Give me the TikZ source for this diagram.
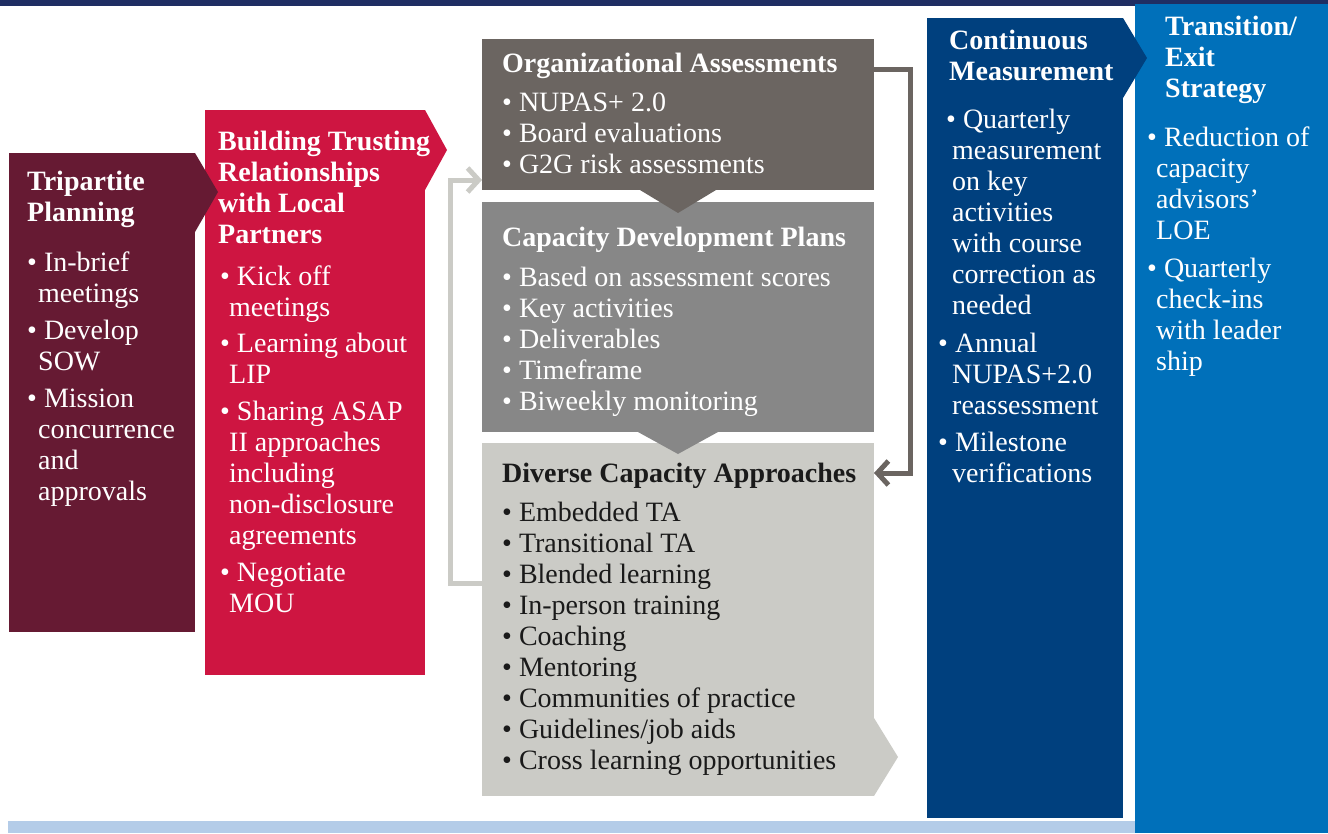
\documentclass[tikz,border=0pt]{standalone}
\usepackage{fontspec}
\setmainfont{Liberation Serif}
\usetikzlibrary{arrows.meta}

\definecolor{barc}{RGB}{31,46,99}
\definecolor{stripc}{RGB}{180,204,232}
\definecolor{planc}{RGB}{102,26,51}
\definecolor{trustc}{RGB}{206,21,65}
\definecolor{assessc}{RGB}{107,101,97}
\definecolor{cdpc}{RGB}{135,135,135}
\definecolor{approachc}{RGB}{203,203,198}
\definecolor{measurec}{RGB}{0,64,126}
\definecolor{exitc}{RGB}{0,112,186}
\definecolor{darktext}{RGB}{26,26,26}

\newcommand{\boxlines}[1]{\begin{tabular}[t]{@{}l@{}}#1\end{tabular}}

\tikzset{
  panel/.style={fill=#1, inner sep=0pt, outer sep=0pt, anchor=north west},
  txt/.style={inner sep=0pt, anchor=base west, text=white,
    font=\fontsize{28}{31}\selectfont},
  backline/.style={draw=#1, line width=5pt, line join=miter,
    -{Straight Barb[length=11pt,width=24pt]}}
}

\begin{document}
\begin{tikzpicture}[x=1pt,y=-1pt]
\useasboundingbox[fill=white] (0,0) rectangle (1328,833);
\fill[barc] (0,0) rectangle (1328,6);
\fill[stripc] (8,821) rectangle (1135,833);

\node[panel=exitc, minimum width=193pt, minimum height=829pt] (exit) at (1135,4) {};
\node[panel=measurec, minimum width=196pt, minimum height=800pt] (measure) at (927,18) {};
\fill[measurec] (measure.north east) -- ++(24,40) -- ++(-24,40) -- cycle;

\node[panel=trustc, minimum width=220pt, minimum height=565pt] (trust) at (205,110) {};
\fill[trustc] (trust.north east) -- ++(22,40) -- ++(-22,40) -- cycle;
\node[panel=planc, minimum width=186pt, minimum height=479pt] (plan) at (9,153) {};
\fill[planc] (plan.north east) -- ++(23,39) -- ++(-23,40) -- cycle;

\node[panel=approachc, minimum width=392pt, minimum height=353pt] (approach) at (482,443) {};
\fill[approachc] (approach.south east) -- ++(24,-39) -- ++(-24,-39) -- cycle;
\node[panel=cdpc, minimum width=392pt, minimum height=230pt] (cdp) at (482,202) {};
\fill[cdpc] ([xshift=-40pt]cdp.south) -- ++(40,22) -- ++(40,-22) -- cycle;
\node[panel=assessc, minimum width=392pt, minimum height=151pt] (assess) at (482,39) {};
\fill[assessc] ([xshift=-38pt]assess.south) -- ++(38,23) -- ++(38,-23) -- cycle;

\draw[backline=approachc] (approach.west |- 0,583) -| (450,180) -- (assess.west |- 0,180);
\draw[backline=assessc] (assess.east |- 0,69) -| (910,473) -- (approach.east |- 0,473);

\node[txt] (plantxt) at (27,190) {\boxlines{\textbf{Tripartite}\\\textbf{Planning}\\[19pt]
\textbullet\ In-brief\\\hspace*{11pt}meetings\\[6pt]
\textbullet\ Develop\\\hspace*{11pt}SOW\\[6pt]
\textbullet\ Mission\\\hspace*{11pt}concurrence\\\hspace*{11pt}and\\\hspace*{11pt}approvals}};

\node[txt] (trusttxt) at (218,150) {\boxlines{\textbf{Building Trusting}\\\textbf{Relationships}\\\textbf{with Local}\\\textbf{Partners}\\[11pt]
\hspace*{2pt}\textbullet\ Kick off\\\hspace*{11pt}meetings\\[5pt]
\hspace*{2pt}\textbullet\ Learning about\\\hspace*{11pt}LIP\\[6pt]
\hspace*{2pt}\textbullet\ Sharing ASAP\\\hspace*{11pt}II approaches\\\hspace*{11pt}including\\\hspace*{11pt}non-disclosure\\\hspace*{11pt}agreements\\[6pt]
\hspace*{2pt}\textbullet\ Negotiate\\\hspace*{11pt}MOU}};

\node[txt] (assesstxt) at (502,72) {\boxlines{\textbf{Organizational Assessments}\\[8pt]
\textbullet\ NUPAS+ 2.0\\
\textbullet\ Board evaluations\\
\textbullet\ G2G risk assessments}};

\node[txt] (cdptxt) at (502,246) {\boxlines{\textbf{Capacity Development Plans}\\[9pt]
\textbullet\ Based on assessment scores\\
\textbullet\ Key activities\\
\textbullet\ Deliverables\\
\textbullet\ Timeframe\\
\textbullet\ Biweekly monitoring}};

\node[txt, text=darktext] (approachtxt) at (502,482) {\boxlines{\textbf{Diverse Capacity Approaches}\\[8pt]
\textbullet\ Embedded TA\\
\textbullet\ Transitional TA\\
\textbullet\ Blended learning\\
\textbullet\ In-person training\\
\textbullet\ Coaching\\
\textbullet\ Mentoring\\
\textbullet\ Communities of practice\\
\textbullet\ Guidelines/job aids\\
\textbullet\ Cross learning opportunities}};

\node[txt] (measuretxt) at (938,49) {\boxlines{\hspace*{11pt}\textbf{Continuous}\\\hspace*{11pt}\textbf{Measurement}\\[17pt]
\hspace*{8pt}\textbullet\ Quarterly\\\hspace*{14pt}measurement\\\hspace*{14pt}on key\\\hspace*{14pt}activities\\\hspace*{14pt}with course\\\hspace*{14pt}correction as\\\hspace*{14pt}needed\\[7pt]
\textbullet\ Annual\\\hspace*{14pt}NUPAS+2.0\\\hspace*{14pt}reassessment\\[6pt]
\textbullet\ Milestone\\\hspace*{14pt}verifications}};

\node[txt] (exittxt) at (1147,35) {\boxlines{\hspace*{18pt}\textbf{Transition/}\\\hspace*{18pt}\textbf{Exit}\\\hspace*{18pt}\textbf{Strategy}\\[18pt]
\textbullet\ Reduction of\\\hspace*{9pt}capacity\\\hspace*{9pt}advisors’\\\hspace*{9pt}LOE\\[7pt]
\textbullet\ Quarterly\\\hspace*{9pt}check-ins\\\hspace*{9pt}with leader\\\hspace*{9pt}ship}};
\end{tikzpicture}
\end{document}
